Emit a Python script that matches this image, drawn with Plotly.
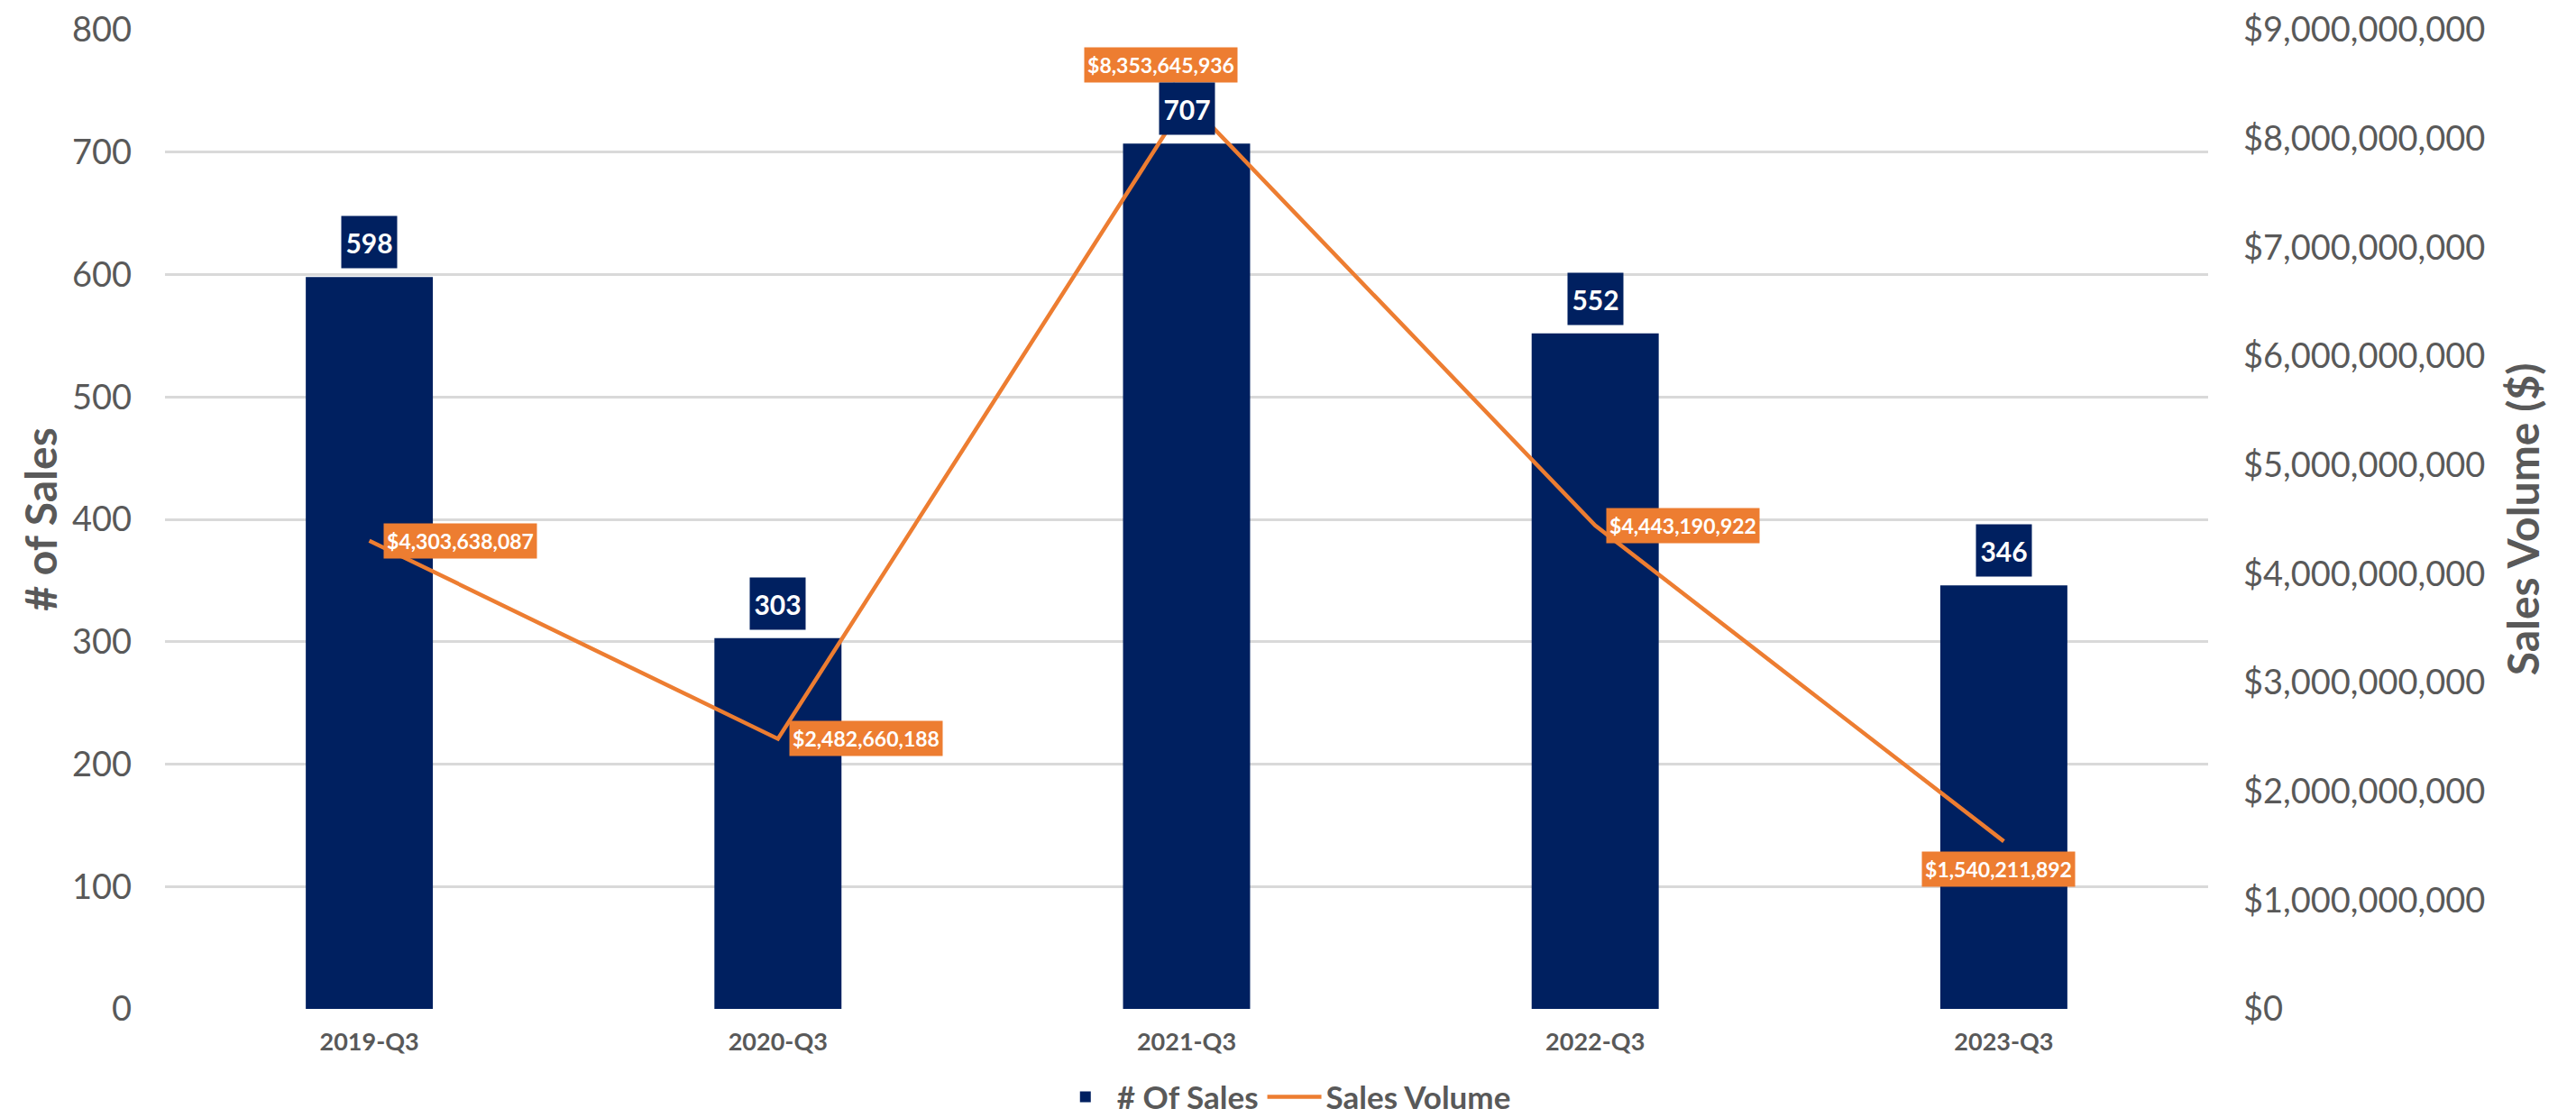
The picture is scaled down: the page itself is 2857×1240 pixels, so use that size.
import plotly.graph_objects as go

quarters = ["2019-Q3", "2020-Q3", "2021-Q3", "2022-Q3", "2023-Q3"]
num_sales = [598, 303, 707, 552, 346]
sales_volume = [4303638087, 2482660188, 8353645936, 4443190922, 1540211892]

NAVY = "#002060"
ORANGE = "#ED7D31"
GRAY = "#595959"
FONT = "Lato, 'Open Sans', sans-serif"

fig = go.Figure()
fig.add_trace(go.Bar(
    x=quarters, y=num_sales, name="# Of Sales",
    marker=dict(color=NAVY, line=dict(width=0)), width=0.311,
))
fig.add_trace(go.Scatter(
    x=quarters, y=sales_volume, name="Sales Volume", yaxis="y2",
    mode="lines", line=dict(color=ORANGE, width=4.5),
))

annotations = []
# Orange sales-volume labels (placement: offset from point in pixels)
vol_pos = [
    dict(xanchor="left", yanchor="middle", xshift=15, yshift=0, arrow=False),
    dict(xanchor="left", yanchor="middle", xshift=12, yshift=0, arrow=False),
    dict(xanchor="center", yanchor="middle", xshift=0, yshift=0, arrow=True, ax=-29, ay=-39),
    dict(xanchor="left", yanchor="middle", xshift=12, yshift=0, arrow=False),
    dict(xanchor="center", yanchor="top", xshift=-6, yshift=-11, arrow=False),
]
for q, v, p in zip(quarters, sales_volume, vol_pos):
    a = dict(
        x=q, y=v, xref="x", yref="y2",
        text="<b>${:,}</b>".format(v),
        font=dict(family=FONT, size=23, color="white"),
        bgcolor=ORANGE, width=169, height=38, borderpad=0,
        xanchor=p["xanchor"], yanchor=p["yanchor"],
    )
    if p["arrow"]:
        a.update(showarrow=True, ax=p["ax"], ay=p["ay"], arrowhead=0,
                 arrowcolor="#A6A6A6", arrowwidth=2, standoff=0)
    else:
        a.update(showarrow=False, xshift=p["xshift"], yshift=p["yshift"])
    annotations.append(a)

# Navy bar labels
for q, n in zip(quarters, num_sales):
    annotations.append(dict(
        x=q, y=n, xref="x", yref="y", text="<b>{}</b>".format(n),
        showarrow=False, yanchor="bottom", yshift=9,
        font=dict(family=FONT, size=30, color="white"),
        bgcolor=NAVY, width=61, height=57, borderpad=0,
    ))

# The page body adds an 8px margin, so the figure is sized to fit the window
fig.update_layout(
    width=2849, height=1232,
    margin=dict(l=175, r=408, t=25, b=121, autoexpand=False),
    plot_bgcolor="white", paper_bgcolor="white",
    font=dict(family=FONT, color=GRAY),
    bargap=0.689,
    showlegend=True,
    legend=dict(
        orientation="h", x=0.548, xanchor="center", y=-0.09, yanchor="middle",
        font=dict(family=FONT, size=35, color=GRAY, weight="bold"),
        itemwidth=60, tracegroupgap=0,
    ),
    xaxis=dict(
        showgrid=False, showline=False, zeroline=False, ticks="",
        tickfont=dict(family=FONT, size=27, color=GRAY, weight="bold"),
        ticklabelstandoff=18, automargin=False,
    ),
    yaxis=dict(
        range=[0, 800], dtick=100, showgrid=True, gridcolor="#D9D9D9", gridwidth=2.5,
        zeroline=False, showline=False, ticks="",
        tickfont=dict(family=FONT, size=38, color=GRAY),
        ticklabelstandoff=36, automargin=False,
        title=dict(text="# of Sales", font=dict(family=FONT, size=48, color=GRAY, weight="bold"),
                   standoff=1),
    ),
    yaxis2=dict(
        range=[0, 9e9], dtick=1e9, overlaying="y", side="right", showgrid=False,
        zeroline=False, showline=False, ticks="",
        tickprefix="$", tickformat=",.0f",
        tickfont=dict(family=FONT, size=38, color=GRAY),
        ticklabelstandoff=38, automargin=False,
        title=dict(text="Sales Volume ($)", font=dict(family=FONT, size=48, color=GRAY, weight="bold"),
                   standoff=27),
    ),
    annotations=annotations,
)

fig.write_html("out.html")
